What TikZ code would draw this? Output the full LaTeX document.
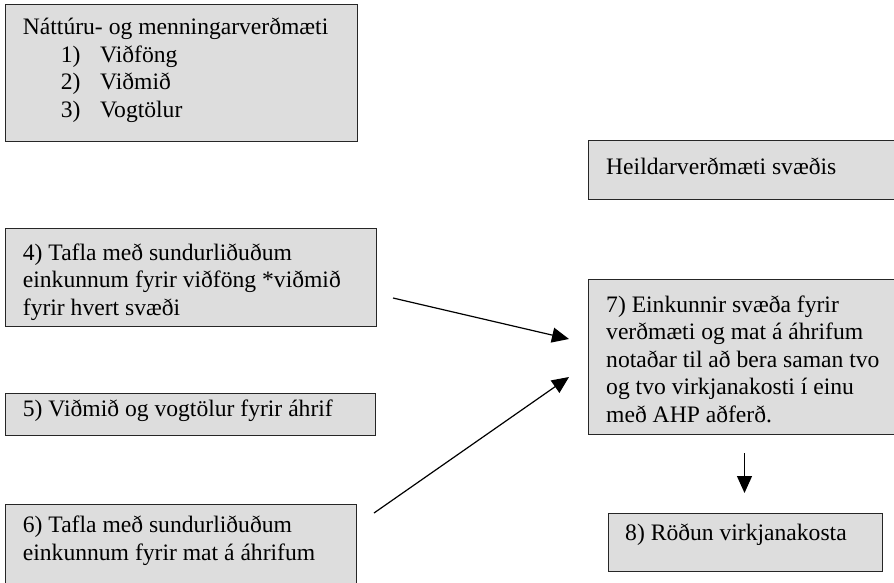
\documentclass[tikz,border=0pt]{standalone}
\usepackage{fontspec}
\setmainfont{Liberation Serif}
\usetikzlibrary{arrows.meta}
\definecolor{boxgray}{RGB}{221,221,221}
\tikzset{
  box/.style={draw=black!85, line width=1pt, fill=boxgray, rectangle, anchor=north west, inner sep=0pt},
  txt/.style={anchor=base west, inner sep=0pt, align=left, font=\fontsize{23.6}{27.6}\selectfont},
  arr/.style={line width=1.2pt, -{Triangle[length=17pt,width=15pt]}}
}

\begin{document}
\begin{tikzpicture}[x=1pt,y=-1pt]
	\useasboundingbox (0,0) rectangle (894,582);
	% boxes
	\node[box, minimum width=352pt, minimum height=137pt] (values) at (5,4) {};
	\node[box, minimum width=312pt, minimum height=59pt] (total) at (588,140) {};
	\node[box, minimum width=371pt, minimum height=98pt] (table4) at (5,228) {};
	\node[box, minimum width=370pt, minimum height=42pt] (crit5) at (5,393) {};
	\node[box, minimum width=351pt, minimum height=90pt] (table6) at (5,504) {};
	\node[box, minimum width=312pt, minimum height=155pt] (compare7) at (588,279) {};
	\node[box, minimum width=274pt, minimum height=58pt] (rank8) at (608,513) {};
	% texts (base = baseline of the last line)
	\node[txt] (valuestxt) at (22.7,117.5) {Náttúru- og menningarverðmæti\\
		\hspace*{38pt}\makebox[39.3pt][l]{1)}Viðföng\\
		\hspace*{38pt}\makebox[39.3pt][l]{2)}Viðmið\\
		\hspace*{38pt}\makebox[39.3pt][l]{3)}Vogtölur};
	\node[txt] (totaltxt) at (606,174) {Heildarverðmæti svæðis};
	\node[txt] (table4txt) at (22.7,315.5) {4) Tafla með sundurliðuðum\\einkunnum fyrir viðföng *viðmið\\fyrir hvert svæði};
	\node[txt] (crit5txt) at (22.7,416.7) {5) Viðmið og vogtölur fyrir áhrif};
	\node[txt] (table6txt) at (22.7,560.5) {6) Tafla með sundurliðuðum\\einkunnum fyrir mat á áhrifum};
	\node[txt] (compare7txt) at (606,422.5) {7) Einkunnir svæða fyrir\\verðmæti og mat á áhrifum\\notaðar til að bera saman tvo\\og tvo virkjanakosti í einu\\með AHP aðferð.};
	\node[txt] (rank8txt) at (625,540.7) {8) Röðun virkjanakosta};
	% arrows
	\coordinate (from4) at (393,298);
	\coordinate (to7a) at (569,339);
	\coordinate (from6) at (374,513);
	\coordinate (to7b) at (569,377);
	\coordinate (from7) at (744.5,453);
	\coordinate (to8) at (744.5,493);
	\draw[arr] (from4)--(to7a);
	\draw[arr] (from6)--(to7b);
	\draw[arr] (from7)--(to8);
\end{tikzpicture}
\end{document}
